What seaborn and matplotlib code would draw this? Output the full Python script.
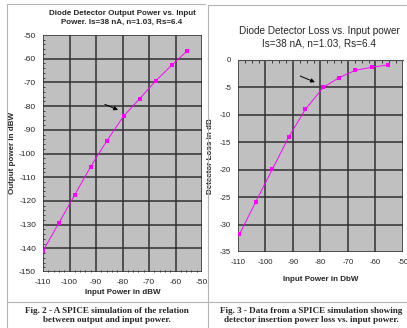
import numpy as np
import pandas as pd
import matplotlib
matplotlib.use("Agg")
import matplotlib.pyplot as plt
from matplotlib.lines import Line2D
from matplotlib.ticker import MultipleLocator
import seaborn as sns

# datos
potencia_entrada = [-110, -104, -98, -92, -86, -79.5, -73.5, -67.5, -61.5, -55.5]
potencia_salida = [-141.1, -129.3, -117.4, -105.5, -94.8, -84.1, -76.9, -69.4, -62.8, -56.6]
entrada_perdida = [-109.5, -103.5, -97.5, -91.5, -85.5, -79.0, -73.2, -67.4, -61.3, -55.3]
perdida_db = [-31.8, -25.8, -19.9, -14.0, -9.0, -5.0, -3.2, -1.9, -1.3, -0.9]

titulo_izq = "Diode Detector Output Power vs. Input\nPower. Is=38 nA, n=1.03, Rs=6.4"
titulo_der = "Diode Detector Loss vs. Input power\nIs=38 nA, n=1.03, Rs=6.4"
pie_izq = "Fig. 2 - A SPICE simulation of the relation\nbetween output and input power."
pie_der = "Fig. 3 - Data from a SPICE simulation showing\ndetector insertion power loss vs. input power."

sns.set_style("white", {"axes.facecolor": "#c0c0c0"})
plt.rcParams["font.family"] = ["Liberation Sans", "DejaVu Sans"]
plt.rcParams["axes.unicode_minus"] = False

W, H = 407, 328
fig = plt.figure(figsize=(W / 100, H / 100), dpi=100)


def caja(x0, y0, x1, y1):
    # pixeles con origen arriba-izquierda
    return [x0 / W, 1 - y1 / H, (x1 - x0) / W, (y1 - y0) / H]


def linea(xs, ys, color="#b4b4b4", lw=0.8):
    fig.add_artist(Line2D([x / W for x in xs], [1 - y / H for y in ys],
                          color=color, lw=lw, transform=fig.transFigure))


# bordes de la tabla
linea([7, 7], [4, 328])
linea([7, 205], [4, 4])
linea([208, 208], [5, 328])
linea([208, 406], [5, 5])
linea([7, 407], [301.5, 301.5])

color_grid = "#303030"

# ---- grafica izquierda
ax1 = fig.add_axes(caja(43, 35, 202, 272))
df1 = pd.DataFrame({"x": potencia_entrada, "y": potencia_salida})
sns.lineplot(data=df1, x="x", y="y", ax=ax1, color="#ff00ff", lw=0.7,
             marker="s", markersize=3, markeredgewidth=0)
ax1.set_xlim(-110, -50)
ax1.set_ylim(-150, -50)
ax1.xaxis.set_major_locator(MultipleLocator(10))
ax1.yaxis.set_major_locator(MultipleLocator(10))
ax1.xaxis.set_minor_locator(MultipleLocator(2))
ax1.yaxis.set_minor_locator(MultipleLocator(2))
ax1.grid(True, which="major", color=color_grid, lw=1.1)
ax1.tick_params(which="major", length=0, labelsize=6, pad=5)
ax1.tick_params(which="minor", length=1.5, direction="in", width=0.6,
                left=True, bottom=True)
for s in ax1.spines.values():
    s.set_visible(False)
ax1.set_xlabel("Input Power in dBW", fontsize=5.8, fontweight="bold", labelpad=2)
ax1.set_ylabel("Output power in dBW", fontsize=5.8, fontweight="bold", labelpad=2)
fig.text(122 / W, 1 - 18 / H, titulo_izq, ha="center", va="center",
         fontsize=5.8, fontweight="bold", linespacing=1.45)
ax1.annotate("", xy=(-80.7, -82.1), xytext=(-87.6, -78.8),
             arrowprops=dict(arrowstyle="-|>", color="black", lw=0.7,
                             mutation_scale=6))

# ---- grafica derecha
ax2 = fig.add_axes(caja(238, 60, 403, 252))
df2 = pd.DataFrame({"x": entrada_perdida, "y": perdida_db})
sns.lineplot(data=df2, x="x", y="y", ax=ax2, color="#ff00ff", lw=0.7,
             marker="s", markersize=3.2, markeredgewidth=0)
ax2.set_xlim(-110, -50)
ax2.set_ylim(-35, 0)
ax2.xaxis.set_major_locator(MultipleLocator(10))
ax2.yaxis.set_major_locator(MultipleLocator(5))
ax2.xaxis.set_minor_locator(MultipleLocator(2.5))
ax2.grid(True, which="major", color=color_grid, lw=1.1)
ax2.tick_params(which="major", length=0, labelsize=5.6, pad=5)
ax2.tick_params(axis="x", which="minor", length=1.8, direction="in", width=0.6,
                top=True, bottom=False)
for s in ax2.spines.values():
    s.set_visible(False)
ax2.spines["top"].set_visible(True)
ax2.spines["top"].set_color("#505050")
ax2.spines["top"].set_linewidth(0.8)
ax2.set_xlabel("Input Power in DbW", fontsize=5.8, fontweight="bold", labelpad=7)
ax2.set_ylabel("Detector Loss in dB", fontsize=5.8, fontweight="bold", labelpad=4)
fig.text(319 / W, 1 - 37.5 / H, titulo_der, ha="center", va="center",
         fontsize=7.2, linespacing=1.25)
ax2.annotate("", xy=(-81.1, -4.24), xytext=(-88.3, -2.73),
             arrowprops=dict(arrowstyle="-|>", color="black", lw=0.7,
                             mutation_scale=6))

# ---- pies de figura
fig.text(107 / W, 1 - 315.5 / H, pie_izq, ha="center", va="center",
         fontsize=6.6, fontweight="bold", family=["Liberation Serif", "DejaVu Serif"],
         linespacing=1.3)
fig.text(311 / W, 1 - 315.5 / H, pie_der, ha="center", va="center",
         fontsize=6.6, fontweight="bold", family=["Liberation Serif", "DejaVu Serif"],
         linespacing=1.3)

fig.savefig("out.png", dpi=100)
